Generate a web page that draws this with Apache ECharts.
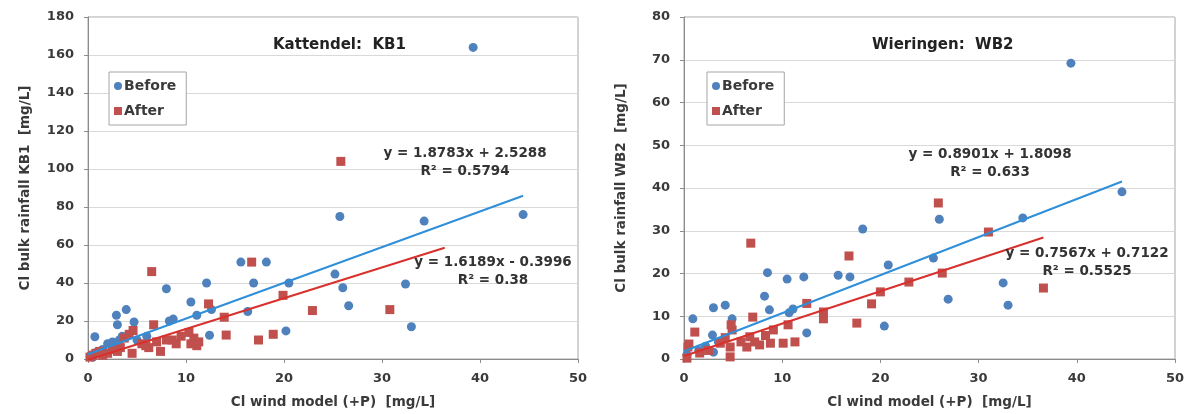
<!DOCTYPE html>
<html><head><meta charset="utf-8">
<script src="https://cdn.jsdelivr.net/npm/echarts@6/dist/echarts.min.js"></script>
<style>html,body{margin:0;padding:0;background:#fff}#c{width:1189px;height:414px}</style>
</head><body><div id="c"></div>
<script>
// ---- Kattendel KB1 ----
const kbBefore = [[0.3,2],[0.5,1],[0.7,11.7],[1,4],[1.5,5],[2,8],[2.5,9],[2.9,23],[3,18],[3.2,10],[3.5,12],[3.9,26],[4.7,19.5],[5,10],[6,12],[8.0,37],[8.3,20],[8.7,21],[10.5,30],[11.1,23],[12.1,40],[12.4,12.5],[12.6,26],[15.6,51],[16.3,25],[16.9,40],[18.2,51],[20.2,14.8],[20.5,40],[25.2,44.7],[25.7,75],[26.0,37.5],[26.6,28],[32.4,39.5],[33.0,17],[34.3,72.6],[39.3,164],[44.4,76]];
const kbAfter = [[0.2,1],[0.5,2],[0.8,3],[1.2,4],[1.5,2],[2,3],[2.5,5],[3,4],[3.3,6],[3.7,11],[4.2,13],[4.5,3],[4.6,15],[5.5,8],[5.9,7],[6.2,6],[6.5,46],[6.7,18],[7.0,9],[7.4,4],[8.0,10],[8.6,10],[9.0,8],[9.5,12],[10.3,14],[10.5,8],[10.8,11],[11.1,7],[11.3,9],[12.3,29],[13.9,22],[14.1,12.6],[16.7,51],[17.4,10],[18.9,13],[19.9,33.5],[22.9,25.5],[25.8,104],[30.8,26]];
// ---- Wieringen WB2 ----
const wbBefore = [[0.3,1],[0.9,9.4],[1.5,2],[2.2,3],[2.9,5.6],[3,1.6],[3.0,12],[3.5,4],[4.2,12.6],[4.9,9.4],[8.2,14.7],[8.5,20.2],[8.7,11.5],[10.5,18.7],[10.7,10.8],[11.1,11.7],[12.2,19.2],[12.5,6.1],[15.7,19.6],[16.9,19.2],[18.2,30.4],[20.4,7.7],[20.8,22],[25.4,23.6],[26.0,32.7],[26.9,14.0],[32.5,17.8],[33.0,12.6],[34.5,33],[39.4,69.2],[44.6,39.1]];
const wbAfter = [[0.3,0.2],[0.4,2.8],[0.5,3.5],[1.1,6.3],[1.6,1.4],[2.5,2],[3.7,3.7],[4.2,5],[4.7,0.5],[4.7,2.8],[4.9,6.8],[4.8,8],[5.8,4],[6.4,2.8],[6.7,5.2],[6.8,27.1],[7.0,9.8],[7.2,4],[7.7,3.3],[8.3,5.5],[8.8,3.7],[9.1,6.8],[10.1,3.7],[10.6,8],[11.3,4],[12.5,13],[14.2,11],[14.2,9.4],[16.8,24.1],[17.6,8.4],[19.1,12.9],[20.0,15.7],[22.9,18],[25.9,36.5],[26.3,20.1],[31.0,29.7],[36.6,16.6]];
// regression: [slope, intercept, xmax]
const kbTrendBefore = [1.8783, 2.5288, 44.4];
const kbTrendAfter = [1.6189, -0.3996, 36.4];
const wbTrendBefore = [0.8901, 1.8098, 44.6];
const wbTrendAfter = [0.7567, 0.7122, 36.6];
const kbEqBefore = ['y = 1.8783x + 2.5288', 'R² = 0.5794'];
const kbEqAfter = ['y = 1.6189x - 0.3996', 'R² = 0.38'];
const wbEqBefore = ['y = 0.8901x + 1.8098', 'R² = 0.633'];
const wbEqAfter = ['y = 0.7567x + 0.7122', 'R² = 0.5525'];
const titles = ['Kattendel:  KB1', 'Wieringen:  WB2'];
const yNames = ['Cl bulk rainfall KB1  [mg/L]', 'Cl bulk rainfall WB2  [mg/L]'];
const xName = 'Cl wind model (+P)  [mg/L]';

const BLUE = '#4f81bd', RED = '#c0504d', TBLUE = '#2f8fd8', TRED = '#d8302c';
const FONT = 'DejaVu Sans, sans-serif';
const TXT = '#3a3a3a';
function trend(t){ return [[0, t[1]], [t[2], t[0]*t[2] + t[1]]]; }

const grids = [
  {left: 88, top: 17, width: 490, height: 342},
  {left: 684, top: 17, width: 491, height: 342}
];
function xAxis(i){ return {gridIndex:i, type:'value', min:0, max:50, interval:10,
  name: xName, nameLocation:'middle', nameGap: 36,
  nameTextStyle:{fontFamily:FONT, fontWeight:'bold', fontSize:13.5, color:TXT},
  axisLine:{lineStyle:{color:'#8c8c8c'}}, axisTick:{show:true, length:4, lineStyle:{color:'#8c8c8c'}},
  axisLabel:{fontFamily:FONT, fontWeight:'bold', fontSize:13, color:TXT, margin:13},
  splitLine:{show:false}}; }
function yAxis(i, max, iv){ return {gridIndex:i, type:'value', min:0, max:max, interval:iv,
  name: yNames[i], nameLocation:'middle', nameGap: 56, nameRotate:90,
  nameTextStyle:{fontFamily:FONT, fontWeight:'bold', fontSize:13.5, color:TXT},
  axisLine:{show:true, lineStyle:{color:'#8c8c8c'}}, axisTick:{show:true, length:4, lineStyle:{color:'#8c8c8c'}},
  axisLabel:{fontFamily:FONT, fontWeight:'bold', fontSize:13, color:TXT, margin:14},
  splitLine:{show:true, lineStyle:{color:'#d9d9d9'}}}; }

function sc(name, data, i, color, sym, size){ return {name, type:'scatter', xAxisIndex:i, yAxisIndex:i, data,
  symbol:sym, symbolSize:size, itemStyle:{color, opacity:1}, z:3}; }
function ln(data, i, color){ return {name:'trend'+i+color, type:'line', xAxisIndex:i, yAxisIndex:i, data,
  symbol:'none', lineStyle:{color, width:2}, z:4, silent:true}; }

function eq(cx, top, lines){ return {type:'text', x:cx, y:top, z:10,
  style:{text:lines.join('\n'), fontFamily:FONT, fontWeight:'bold', fontSize:13.5, fill:'#333',
  align:'center', verticalAlign:'top', lineHeight:18}}; }
function leg(left){ return {left, top:72, orient:'vertical', data:[{name:'Before', icon:'circle'},{name:'After', icon:'rect'}],
  itemWidth:8, itemHeight:8, itemGap:11, padding:[7,10,7,5], borderColor:'#a6a6a6', borderWidth:1, backgroundColor:'#fff',
  textStyle:{fontFamily:FONT, fontWeight:'bold', fontSize:14, color:TXT, padding:[0,0,0,-3]}, selectedMode:false}; }

const chart = echarts.init(document.getElementById('c'));
chart.setOption({
  animation:false,
  title:[
    {text:titles[0], left:268, top:33, textStyle:{fontFamily:FONT, fontWeight:'bold', fontSize:15, color:'#222'}},
    {text:titles[1], left:867, top:33, textStyle:{fontFamily:FONT, fontWeight:'bold', fontSize:15, color:'#222'}}
  ],
  grid: grids.map(g=>Object.assign({show:true, borderColor:'#a6a6a6', borderWidth:1, backgroundColor:'transparent'}, g)),
  xAxis:[xAxis(0), xAxis(1)],
  yAxis:[yAxis(0,180,20), yAxis(1,80,10)],
  legend:[leg(109), leg(707)],
  series:[
    sc('Before', kbBefore, 0, BLUE, 'circle', 9),
    sc('After', kbAfter, 0, RED, 'rect', 9),
    ln(trend(kbTrendBefore), 0, TBLUE),
    ln(trend(kbTrendAfter), 0, TRED),
    sc('Before', wbBefore, 1, BLUE, 'circle', 9),
    sc('After', wbAfter, 1, RED, 'rect', 9),
    ln(trend(wbTrendBefore), 1, TBLUE),
    ln(trend(wbTrendAfter), 1, TRED)
  ],
  graphic:[
    eq(465, 144, kbEqBefore), eq(493, 253, kbEqAfter),
    eq(990, 145, wbEqBefore), eq(1087, 244, wbEqAfter)
  ]
});
</script></body></html>
